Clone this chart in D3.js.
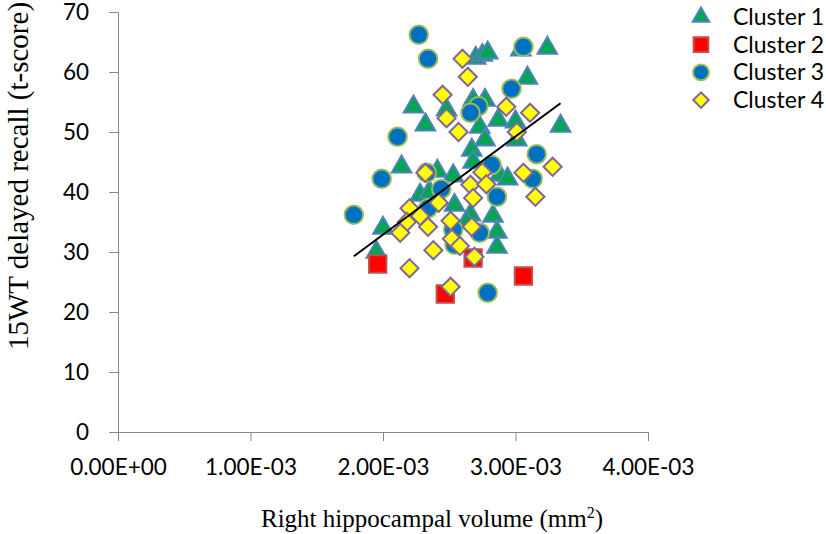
<!DOCTYPE html>
<html>
<head>
<meta charset="utf-8">
<script src="https://cdn.jsdelivr.net/npm/d3@7"></script>
<style>
  body { margin: 0; background: #fff; }
  .axis path, .axis line { stroke: #868686; }
  .axis text { font-family: Lato, "Open Sans", sans-serif; font-size: 22.5px; fill: #000; }
</style>
</head>
<body>
<div id="chart"></div>
<script>
// values, [volume, recall]
var cluster1 = [
  [2.70e-3, 62.3], [2.75e-3, 62.8], [2.79e-3, 63.2], [3.04e-3, 63.7], [3.24e-3, 64],
  [3.09e-3, 59], [2.23e-3, 54.2], [2.32e-3, 51.2], [2.68e-3, 55.3], [2.77e-3, 55.3],
  [2.48e-3, 53.7], [2.87e-3, 52], [3.00e-3, 51.7], [2.73e-3, 50.8], [3.34e-3, 51],
  [2.77e-3, 48.7], [3.01e-3, 48.7], [2.67e-3, 47], [2.68e-3, 45], [2.14e-3, 44.2],
  [2.41e-3, 43.5], [2.53e-3, 42.7], [2.88e-3, 42.8], [2.94e-3, 42.2], [2.28e-3, 39.5],
  [2.35e-3, 40], [2.00e-3, 34], [2.83e-3, 36], [2.86e-3, 33.3], [2.86e-3, 30.8],
  [1.95e-3, 30], [2.66e-3, 36.2], [2.54e-3, 37.8], [2.63e-3, 35]
]
var cluster2 = [
  [1.96e-3, 28], [2.68e-3, 29], [2.47e-3, 23], [3.06e-3, 26]
]
var cluster3 = [
  [2.27e-3, 66.2], [2.34e-3, 62.2], [3.06e-3, 64.2], [2.97e-3, 57.2], [2.72e-3, 54.3],
  [2.66e-3, 53.2], [3.16e-3, 46.3], [2.11e-3, 49.2], [1.99e-3, 42.2], [1.78e-3, 36.2],
  [2.82e-3, 44.5], [3.13e-3, 42.2], [2.44e-3, 40.5], [2.86e-3, 39.2], [2.34e-3, 37.3],
  [2.33e-3, 43.2], [2.53e-3, 33.7], [2.73e-3, 33.2], [2.54e-3, 31.2], [2.79e-3, 23.2]
]
var cluster4 = [
  [2.60e-3, 62.2], [2.64e-3, 59.2], [2.45e-3, 56.2], [2.93e-3, 54.2], [3.11e-3, 53.2],
  [2.48e-3, 52.3], [2.57e-3, 50], [3.01e-3, 50], [2.32e-3, 43.2], [2.75e-3, 43.3],
  [3.06e-3, 43.2], [3.28e-3, 44.2], [2.66e-3, 41.2], [2.78e-3, 41.3], [2.68e-3, 39],
  [3.15e-3, 39.2], [2.42e-3, 38.2], [2.20e-3, 37.3], [2.28e-3, 36], [2.18e-3, 35],
  [2.34e-3, 34.2], [2.51e-3, 35.2], [2.13e-3, 33.2], [2.67e-3, 34.2], [2.52e-3, 32.2],
  [2.58e-3, 31], [2.38e-3, 30.3], [2.69e-3, 29.2], [2.20e-3, 27.3], [2.51e-3, 24.2]
]
// linear trendline end points
var trendX = [1.78e-3, 3.34e-3]
var trendY = [29.3, 54.8]

var xTicks = [0, 1e-3, 2e-3, 3e-3, 4e-3]
var xTickLabels = ['0.00E+00', '1.00E-03', '2.00E-03', '3.00E-03', '4.00E-03']
var yTicks = [0, 10, 20, 30, 40, 50, 60, 70]
var seriesNames = ['Cluster 1', 'Cluster 2', 'Cluster 3', 'Cluster 4']

var styles = [
  { type: 'triangle', fill: '#00a651', stroke: '#4f81bd' },
  { type: 'square',   fill: '#ff0000', stroke: '#c0504d' },
  { type: 'circle',   fill: '#0070c0', stroke: '#9bbb59' },
  { type: 'diamond',  fill: '#ffff00', stroke: '#8064a2' }
]
var series = [cluster1, cluster2, cluster3, cluster4]

var w = 826, h = 534
var svg = d3.select('#chart').append('svg')
    .attr('width', w)
    .attr('height', h)

var xScale = d3.scaleLinear().domain([0, 4e-3]).range([118, 648])
var yScale = d3.scaleLinear().domain([0, 70]).range([432, 12])

function markerPath(type, big) {
  var k = big ? 1 : 0.85
  if (type == 'triangle') return d3.symbol(d3.symbolTriangle, 165 * k * k)()
  if (type == 'square') return d3.symbol(d3.symbolSquare, 300 * k * k)()
  if (type == 'circle') return d3.symbol(d3.symbolCircle, 270 * k * k)()
  return d3.symbol(d3.symbolSquare, 165 * k * k)()
}

// axes
var yAxis = d3.axisLeft(yScale).tickValues(yTicks).tickSize(9).tickSizeOuter(0).tickPadding(20)
svg.append('g')
    .attr('class', 'axis')
    .attr('transform', 'translate(118,0)')
    .call(yAxis)

var xAxis = d3.axisBottom(xScale).tickValues(xTicks).tickSize(9).tickSizeOuter(0).tickPadding(18)
  .tickFormat(function (d, i) { return xTickLabels[i] })
svg.append('g')
    .attr('class', 'axis')
    .attr('transform', 'translate(0,432)')
    .call(xAxis)

// points
series.forEach(function (data, s) {
  var st = styles[s]
  svg.append('g').selectAll('path')
      .data(data)
      .enter()
    .append('path')
      .attr('d', markerPath(st.type, true))
      .attr('transform', function (d) {
        return 'translate(' + xScale(d[0]) + ',' + yScale(d[1]) + ')' + (st.type == 'diamond' ? ' rotate(45)' : '')
      })
      .attr('fill', st.fill)
      .attr('stroke', st.stroke)
      .attr('stroke-width', 2)
})

// trendline
svg.append('line')
    .attr('x1', xScale(trendX[0]))
    .attr('y1', yScale(trendY[0]))
    .attr('x2', xScale(trendX[1]))
    .attr('y2', yScale(trendY[1]))
    .attr('stroke', '#000')
    .attr('stroke-width', 2)

// legend
var legend = svg.selectAll('.legend')
    .data(seriesNames)
    .enter().append('g')
    .attr('class', 'legend')
    .attr('transform', function (d, i) { return 'translate(701,' + (17 + i * 27.7) + ')' })

legend.append('path')
    .attr('d', function (d, i) { return markerPath(styles[i].type, false) })
    .attr('transform', function (d, i) { return styles[i].type == 'diamond' ? 'rotate(45)' : '' })
    .attr('fill', function (d, i) { return styles[i].fill })
    .attr('stroke', function (d, i) { return styles[i].stroke })
    .attr('stroke-width', 2)

legend.append('text')
    .attr('x', 32)
    .attr('dy', '.35em')
    .style('font-family', 'Lato, "Open Sans", sans-serif')
    .style('font-size', '23px')
    .text(function (d) { return d })

// axis titles
svg.append('text')
    .attr('transform', 'translate(28,176) rotate(-90)')
    .style('text-anchor', 'middle')
    .style('font-family', '"Liberation Serif", "Times New Roman", serif')
    .style('font-size', '29px')
    .text('15WT delayed recall (t-score)')

var xt = svg.append('text')
    .attr('x', 432)
    .attr('y', 527)
    .style('text-anchor', 'middle')
    .style('font-family', '"Liberation Serif", "Times New Roman", serif')
    .style('font-size', '25px')
xt.append('tspan').text('Right hippocampal volume (mm')
xt.append('tspan').attr('dy', -9).style('font-size', '16px').text('2')
xt.append('tspan').attr('dy', 9).text(')')
</script>
</body>
</html>
